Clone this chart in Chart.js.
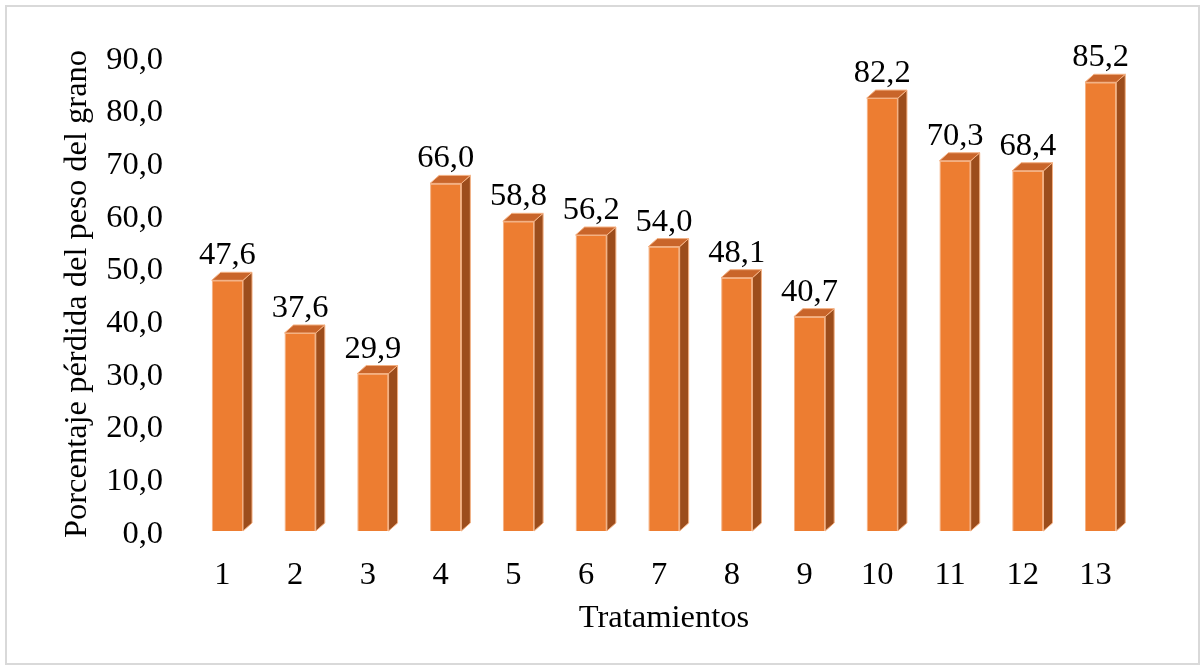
<!DOCTYPE html>
<html>
<head>
<meta charset="utf-8">
<script src="https://cdn.jsdelivr.net/npm/chart.js@4/dist/chart.umd.min.js"></script>
<style>
html,body{margin:0;padding:0;background:#fff;}
#wrap{position:absolute;left:0;top:0;width:1204px;height:669px;}
#frame{position:absolute;left:5px;top:5px;width:1191px;height:656px;border:2px solid #d9d9d9;box-sizing:content-box;}
canvas{position:absolute;left:0;top:0;}
</style>
</head>
<body>
<div id="wrap">
<div id="frame"></div>
<canvas id="c" width="1204" height="669"></canvas>
</div>
<script>
const categories = ['1','2','3','4','5','6','7','8','9','10','11','12','13'];
const lossPercent = [47.6, 37.6, 29.9, 66.0, 58.8, 56.2, 54.0, 48.1, 40.7, 82.2, 70.3, 68.4, 85.2];
const yTicks = [0,10,20,30,40,50,60,70,80,90];
const yTitle = 'Porcentaje pérdida del peso del grano';
const xTitle = 'Tratamientos';

const FONT = "'Liberation Serif', 'Times New Roman', serif";
const FS = 32.5;
const DX = 9, DY = 8;

const bar3d = {
  id: 'bar3d',
  afterDatasetsDraw(chart) {
    const ctx = chart.ctx;
    const meta = chart.getDatasetMeta(0);
    ctx.save();
    meta.data.forEach((el, i) => {
      const p = el.getProps(['x','y','base','width'], true);
      const l = p.x - p.width/2, r = p.x + p.width/2, t = p.y, b = p.base;
      ctx.beginPath();
      ctx.moveTo(r, t); ctx.lineTo(r+DX, t-DY); ctx.lineTo(r+DX, b-DY); ctx.lineTo(r, b); ctx.closePath();
      ctx.fillStyle = '#9C4D1C'; ctx.fill();
      ctx.strokeStyle = '#F4B183'; ctx.lineWidth = 1; ctx.stroke();
      ctx.beginPath();
      ctx.moveTo(l, t); ctx.lineTo(l+DX, t-DY); ctx.lineTo(r+DX, t-DY); ctx.lineTo(r, t); ctx.closePath();
      ctx.fillStyle = '#C9652A'; ctx.fill();
      ctx.stroke();
      ctx.fillStyle = '#000';
      ctx.font = FS + 'px ' + FONT;
      ctx.textAlign = 'center';
      ctx.textBaseline = 'alphabetic';
      ctx.fillText(lossPercent[i].toFixed(1).replace('.', ','), p.x, t - DY - 8);
    });
    ctx.restore();
  }
};

new Chart(document.getElementById('c'), {
  type: 'bar',
  data: {
    labels: categories,
    datasets: [{
      data: lossPercent,
      backgroundColor: '#ED7D31',
      borderColor: '#F4B183',
      borderWidth: 1,
      barPercentage: 0.43,
      categoryPercentage: 1.0
    }]
  },
  options: {
    responsive: false,
    animation: false,
    devicePixelRatio: 1,
    layout: { padding: { left: 58, right: 67, top: 57, bottom: 31 } },
    plugins: { legend: { display: false }, tooltip: { enabled: false } },
    scales: {
      x: {
        grid: { display: false, drawTicks: false },
        border: { display: false },
        ticks: { color: '#000', font: { family: FONT, size: FS }, padding: 25, labelOffset: -5, maxRotation: 0 },
        title: { display: true, text: xTitle, color: '#000', font: { family: FONT, size: FS }, padding: 0 },
        afterFit(s) { s.height = 107; }
      },
      y: {
        min: 0, max: 90,
        afterBuildTicks(s) { s.ticks = yTicks.map(v => ({ value: v })); },
        grid: { display: false, drawTicks: false },
        border: { display: false },
        ticks: { color: '#000', font: { family: FONT, size: FS }, padding: 28, labelOffset: 3,
          callback: v => Number(v).toFixed(1).replace('.', ',') },
        title: { display: true, text: yTitle, color: '#000', font: { family: FONT, size: FS }, padding: 0 },
        afterFit(s) { s.width = 133; }
      }
    }
  },
  plugins: [bar3d]
});
</script>
</body>
</html>
